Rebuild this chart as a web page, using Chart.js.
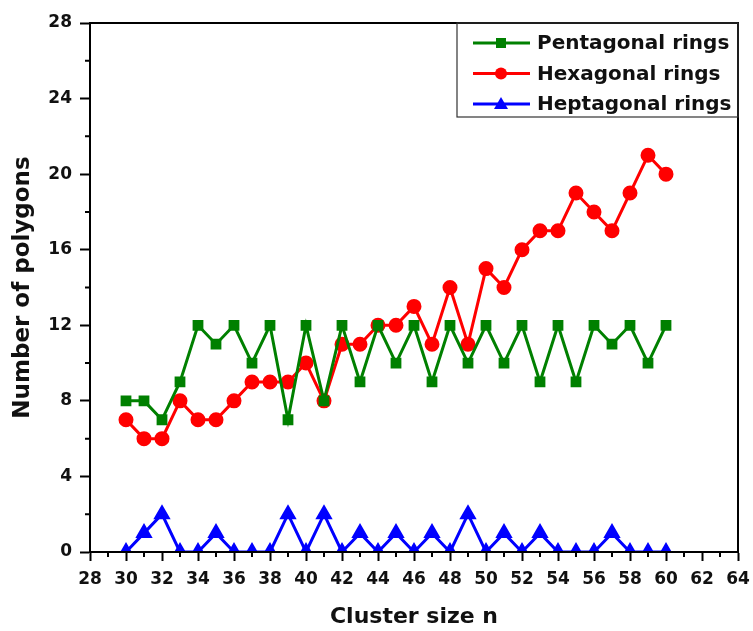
<!DOCTYPE html>
<html>
<head>
<meta charset="utf-8">
<script src="https://cdn.jsdelivr.net/npm/chart.js@4/dist/chart.umd.min.js"></script>
<style>
    body { margin: 0; background: #fff; }
    #wrap { width: 753px; height: 631px; }
</style>
</head>
<body>
<div id="wrap"><canvas id="ringChart"></canvas></div>
<script>
const clusterSizes = [30, 31, 32, 33, 34, 35, 36, 37, 38, 39, 40, 41, 42, 43, 44, 45, 46, 47, 48, 49, 50, 51, 52, 53, 54, 55, 56, 57, 58, 59, 60];
const pentagonal = [8, 8, 7, 9, 12, 11, 12, 10, 12, 7, 12, 8, 12, 9, 12, 10, 12, 9, 12, 10, 12, 10, 12, 9, 12, 9, 12, 11, 12, 10, 12];
const hexagonal = [7, 6, 6, 8, 7, 7, 8, 9, 9, 9, 10, 8, 11, 11, 12, 12, 13, 11, 14, 11, 15, 14, 16, 17, 17, 19, 18, 17, 19, 21, 20];
const heptagonal = [0, 1, 2, 0, 0, 1, 0, 0, 0, 2, 0, 2, 0, 1, 0, 1, 0, 1, 0, 2, 0, 1, 0, 1, 0, 0, 0, 1, 0, 0, 0];

const seriesLabels = ["Pentagonal rings", "Hexagonal rings", "Heptagonal rings"];
const xTitle = "Cluster size n";
const yTitle = "Number of polygons";

const FONT = "'DejaVu Sans', Arial, sans-serif";

function toPoints(values) {
    return clusterSizes.map((x, i) => ({ x: x, y: values[i] }));
}

// box around plot, minor ticks and the framed legend
const framePlugin = {
    id: "frame",
    afterDraw(chart) {
        const ctx = chart.ctx;
        const area = chart.chartArea;
        const xs = chart.scales.x;
        const ys = chart.scales.y;
        ctx.save();
        ctx.strokeStyle = "#000";
        ctx.lineWidth = 2;
        ctx.strokeRect(area.left, area.top, area.right - area.left, area.bottom - area.top);

        // minor ticks
        ctx.beginPath();
        for (let v = 29; v < 64; v += 2) {
            const px = xs.getPixelForValue(v);
            ctx.moveTo(px, area.bottom);
            ctx.lineTo(px, area.bottom + 5);
        }
        for (let v = 2; v < 28; v += 4) {
            const py = ys.getPixelForValue(v);
            ctx.moveTo(area.left, py);
            ctx.lineTo(area.left - 5, py);
        }
        ctx.stroke();

        // legend
        const boxL = area.right - 281;
        const boxT = area.top;
        ctx.lineWidth = 1.2;
        ctx.strokeStyle = "#333";
        ctx.strokeRect(boxL, boxT, area.right - boxL, 94);
        ctx.font = "bold 20px " + FONT;
        ctx.textBaseline = "middle";
        ctx.textAlign = "left";
        chart.data.datasets.forEach((ds, i) => {
            const cy = boxT + 20 + i * 30.5;
            ctx.strokeStyle = ds.borderColor;
            ctx.lineWidth = 3;
            ctx.beginPath();
            ctx.moveTo(boxL + 16, cy);
            ctx.lineTo(boxL + 73, cy);
            ctx.stroke();
            ctx.fillStyle = ds.borderColor;
            const mx = boxL + 44;
            ctx.beginPath();
            if (ds.pointStyle === "rect") {
                ctx.rect(mx - 5, cy - 5, 10, 10);
            } else if (ds.pointStyle === "circle") {
                ctx.arc(mx, cy, 6, 0, Math.PI * 2);
            } else {
                ctx.moveTo(mx, cy - 7);
                ctx.lineTo(mx + 7, cy + 5);
                ctx.lineTo(mx - 7, cy + 5);
                ctx.closePath();
            }
            ctx.fill();
            ctx.fillStyle = "#111";
            ctx.fillText(ds.label, boxL + 80, cy + 1);
        });
        ctx.restore();
    }
};

const ctx = document.getElementById("ringChart").getContext("2d");
new Chart(ctx, {
    type: "line",
    data: {
        datasets: [
            {
                label: seriesLabels[0],
                data: toPoints(pentagonal),
                borderColor: "#008000",
                backgroundColor: "#008000",
                pointStyle: "rect",
                pointRadius: 5.5,
                borderWidth: 3,
                tension: 0
            },
            {
                label: seriesLabels[1],
                data: toPoints(hexagonal),
                borderColor: "#ff0000",
                backgroundColor: "#ff0000",
                pointStyle: "circle",
                pointRadius: 6,
                borderWidth: 3,
                tension: 0
            },
            {
                label: seriesLabels[2],
                data: toPoints(heptagonal),
                borderColor: "#0000ff",
                backgroundColor: "#0000ff",
                pointStyle: "triangle",
                pointRadius: 7,
                borderWidth: 3,
                tension: 0,
                clip: { left: 10, top: 10, right: 10, bottom: 0 }
            }
        ]
    },
    options: {
        responsive: true,
        maintainAspectRatio: false,
        animation: false,
        layout: { padding: { top: 23, right: 15, left: 0, bottom: 0 } },
        plugins: {
            legend: { display: false },
            tooltip: { enabled: false }
        },
        scales: {
            x: {
                type: "linear",
                min: 28,
                max: 64,
                afterFit(scale) {
                    scale.height = 79;
                    scale.paddingRight = 0;
                    scale.paddingLeft = 0;
                },
                ticks: {
                    stepSize: 2,
                    color: "#111",
                    padding: 8,
                    maxRotation: 0,
                    font: { family: FONT, size: 17, weight: "bold" }
                },
                grid: { drawOnChartArea: false, tickLength: 9, tickWidth: 2, tickColor: "#000" },
                border: { color: "#000", width: 2 },
                title: {
                    display: true,
                    text: xTitle,
                    color: "#111",
                    padding: { top: 0, bottom: 1 },
                    font: { family: FONT, size: 22, weight: "bold" }
                }
            },
            y: {
                type: "linear",
                min: 0,
                max: 28,
                afterFit(scale) {
                    scale.width = 90;
                    scale.paddingTop = 0;
                    scale.paddingBottom = 0;
                },
                ticks: {
                    stepSize: 4,
                    color: "#111",
                    padding: 8,
                    font: { family: FONT, size: 17, weight: "bold" }
                },
                grid: { drawOnChartArea: false, tickLength: 10, tickWidth: 2, tickColor: "#000" },
                border: { color: "#000", width: 2 },
                title: {
                    display: true,
                    text: yTitle,
                    color: "#111",
                    padding: { top: 9, bottom: 0 },
                    font: { family: FONT, size: 23, weight: "bold" }
                }
            }
        }
    },
    plugins: [framePlugin]
});
</script>
</body>
</html>
